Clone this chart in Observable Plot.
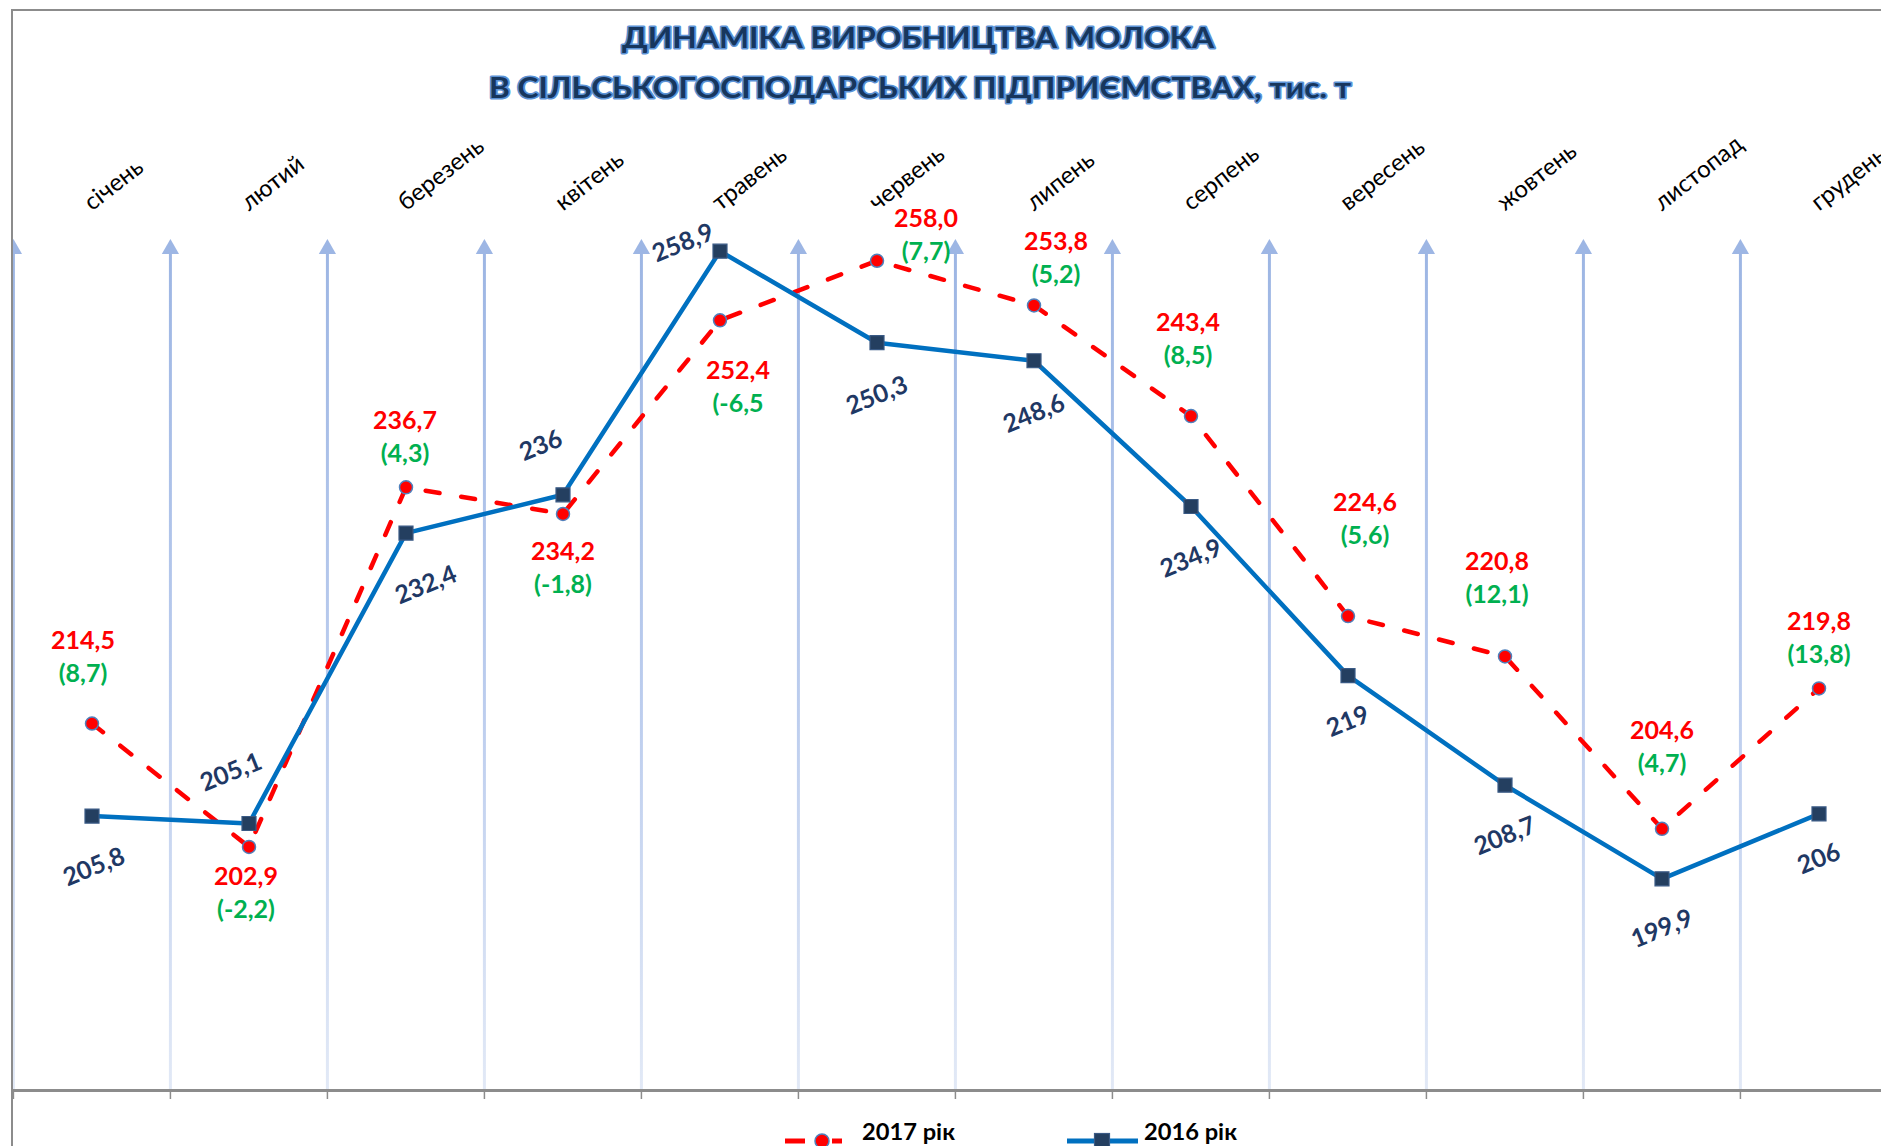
<!DOCTYPE html>
<html lang="uk">
<head>
<meta charset="utf-8">
<script src="https://cdn.jsdelivr.net/npm/d3@7"></script>
<script src="https://cdn.jsdelivr.net/npm/@observablehq/plot@0.6"></script>
<style>
  html, body { margin:0; padding:0; background:#fff; width:1881px; height:1146px; overflow:hidden; }
  #page { position:relative; width:1881px; height:1146px; overflow:hidden; background:#fff; }
  #chart { position:absolute; left:0; top:0; }
  .overlay { position:absolute; left:0; pointer-events:none; }
  #leftMask { position:absolute; left:0; top:0; width:11px; height:1146px; background:#fff; }
  #frame { position:absolute; left:11px; top:9px; width:1900px; height:1200px; border-left:2px solid #8c8c8c; border-top:2px solid #8c8c8c; }
  .ttl { font-family: Lato, "Open Sans", sans-serif; font-weight:700; fill:#17365d; stroke:#5b92d6; stroke-width:3.2px; stroke-linejoin:round; paint-order:stroke; }
  .leg { font-family: Lato, "Open Sans", sans-serif; font-weight:700; font-size:23px; fill:#000; }
</style>
</head>
<body>
<div id="page">
  <div id="chart"></div>
  <div id="leftMask"></div>
  <div id="frame"></div>
  <svg id="title" class="overlay" style="top:0" width="1881" height="120">
    <text class="ttl" x="918" y="48" text-anchor="middle" font-size="28" textLength="592" lengthAdjust="spacingAndGlyphs">ДИНАМІКА ВИРОБНИЦТВА МОЛОКА</text>
    <text class="ttl" x="920" y="98" text-anchor="middle" font-size="28" textLength="862" lengthAdjust="spacingAndGlyphs">В СІЛЬСЬКОГОСПОДАРСЬКИХ ПІДПРИЄМСТВАХ, тис. т</text>
  </svg>
  <svg id="legend" class="overlay" style="top:1100px" width="1881" height="46">
    <line x1="785" y1="41" x2="805" y2="41" stroke="#ff0000" stroke-width="5"/>
    <line x1="832" y1="41" x2="842" y2="41" stroke="#ff0000" stroke-width="5"/>
    <circle cx="822" cy="41" r="7" fill="#ff0000" stroke="#4f81bd" stroke-width="1.5"/>
    <text class="leg" x="862" y="40" textLength="93" lengthAdjust="spacingAndGlyphs">2017 рік</text>
    <line x1="1067" y1="41" x2="1138" y2="41" stroke="#0070c0" stroke-width="5"/>
    <rect x="1094.5" y="33.5" width="15" height="15" fill="#243f60" stroke="#3a5a85" stroke-width="1.2"/>
    <text class="leg" x="1144" y="40" textLength="93" lengthAdjust="spacingAndGlyphs">2016 рік</text>
  </svg>
</div>
<script>
// ---------- data ----------
const months = ["січень","лютий","березень","квітень","травень","червень","липень","серпень","вересень","жовтень","листопад","грудень"];
// 2017: plotted positions (the December point sits at ~217,8 in the original)
const values2017 = [214.5, 202.9, 236.7, 234.2, 252.4, 258.0, 253.8, 243.4, 224.6, 220.8, 204.6, 217.8];
// 2017: value labels as printed in the original
const valueLabels2017 = ["214,5", "202,9", "236,7", "234,2", "252,4", "258,0", "253,8", "243,4", "224,6", "220,8", "204,6", "219,8"];
const change2017 = ["(8,7)", "(-2,2)", "(4,3)", "(-1,8)", "(-6,5", "(7,7)", "(5,2)", "(8,5)", "(5,6)", "(12,1)", "(4,7)", "(13,8)"];
const values2016 = [205.8, 205.1, 232.4, 236, 258.9, 250.3, 248.6, 234.9, 219, 208.7, 199.9, 206];
const yDomain = [180, 260];

// ---------- label placement (pixel offsets from each point) ----------
const offset2017 = [[-9,-83],[-3,30],[-1,-66],[0,38],[18,51],[49,-42],[22,-63],[-3,-93],[17,-113],[-8,-94],[0,-98],[0,-66]];
const offset2016 = [[2,51],[-18,-51],[20,52],[-22,-49],[-37,-8],[0,53],[0,53],[0,52],[0,46],[0,51],[0,50],[0,45]];

const rows2017 = months.map((m, i) => ({month: m, value: values2017[i], label: valueLabels2017[i], change: change2017[i]}));
const rows2016 = months.map((m, i) => ({month: m, value: values2016[i]}));

const fmtG = v => String(v).replace(".", ",");

const W = 1900, H = 1146, mL = 12, mR = 2, mT = 239, mB = 56;
const bw = (W - mL - mR) / months.length;
const FONT = "Lato, 'Open Sans', sans-serif";

const marks = [
  Plot.ruleX(months, {x: d => d, dx: -bw / 2, stroke: "url(#gridGrad)", strokeWidth: 3, insetTop: 8}),
  Plot.dot(months, {x: d => d, frameAnchor: "top", dx: -bw / 2, dy: 9.5, symbol: "triangle", r: 6.4, fill: "#9db6e4", stroke: "none"}),
  Plot.ruleY([yDomain[0]], {stroke: "#8c8c8c", strokeWidth: 3}),
  Plot.ruleX(months, {x: d => d, y1: yDomain[0], y2: yDomain[0], dx: -bw / 2, insetBottom: -9, stroke: "#8c8c8c", strokeWidth: 1.5}),
  Plot.text(months, {x: d => d, frameAnchor: "top", dy: -28, rotate: -38, textAnchor: "start", lineAnchor: "bottom", fontSize: 24, fontFamily: FONT, fill: "#000"}),
  Plot.line(rows2017, {x: "month", y: "value", stroke: "#ff0000", strokeWidth: 4.5, strokeDasharray: "14,22", strokeLinecap: "round"}),
  Plot.line(rows2016, {x: "month", y: "value", stroke: "#0070c0", strokeWidth: 4.5}),
  Plot.dot(rows2017, {x: "month", y: "value", r: 6.5, fill: "#ff0000", stroke: "#4f81bd", strokeWidth: 1.5}),
  Plot.dot(rows2016, {x: "month", y: "value", symbol: "square", r: 7.9, fill: "#243f60", stroke: "#3a5a85", strokeWidth: 1.2}),
  ...rows2016.map((d, i) => Plot.text([d], {x: "month", y: "value", text: r => fmtG(r.value), dx: offset2016[i][0], dy: offset2016[i][1], rotate: -22, fontSize: 25, fontWeight: "bold", fontFamily: FONT, fill: "#1f3864"})),
  ...rows2017.map((d, i) => Plot.text([d], {x: "month", y: "value", text: "label", dx: offset2017[i][0], dy: offset2017[i][1], fontSize: 25, fontWeight: "bold", fontFamily: FONT, fill: "#ff0000"})),
  ...rows2017.map((d, i) => Plot.text([d], {x: "month", y: "value", text: "change", dx: offset2017[i][0], dy: offset2017[i][1] + 33, fontSize: 25, fontWeight: "bold", fontFamily: FONT, fill: "#00b050"}))
];

const chart = Plot.plot({
  width: W, height: H,
  marginLeft: mL, marginRight: mR, marginTop: mT, marginBottom: mB,
  x: {type: "band", domain: months, padding: 0, axis: null},
  y: {domain: yDomain, axis: null},
  style: {background: "transparent", maxWidth: "none", overflow: "visible", fontFamily: FONT},
  marks
});

const ys = chart.scale("y");
const defs = d3.select(chart).insert("defs", ":first-child");
const grad = defs.append("linearGradient")
  .attr("id", "gridGrad").attr("gradientUnits", "userSpaceOnUse")
  .attr("x1", 0).attr("x2", 0)
  .attr("y1", ys.apply(yDomain[1])).attr("y2", ys.apply(yDomain[0]));
grad.append("stop").attr("offset", "0%").attr("stop-color", "#9cb5e3");
grad.append("stop").attr("offset", "55%").attr("stop-color", "#bccdee");
grad.append("stop").attr("offset", "100%").attr("stop-color", "#e2e9f6");

document.getElementById("chart").appendChild(chart);
</script>
</body>
</html>
